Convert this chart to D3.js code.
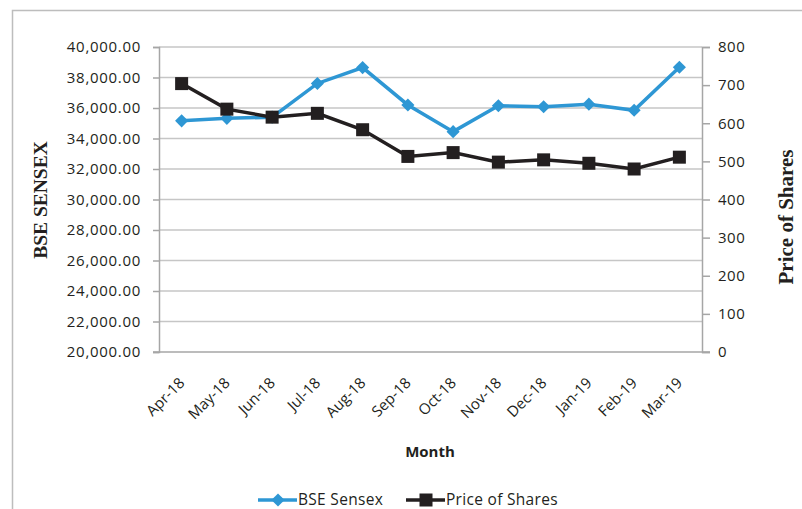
<!DOCTYPE html>
<html>
<head>
  <meta charset="utf-8" />
  <script src="https://cdn.jsdelivr.net/npm/d3@7"></script>
  <style>
    body { margin: 0; background: #fff; }
    text { font-family: "Open Sans", sans-serif; fill: #231f20; }
    .grid line { stroke: #c6c6c6; stroke-width: 1.5; }
    .axis path, .axis line { stroke: #a6a6a6; stroke-width: 1.5; }
  </style>
</head>
<body>
<svg id="chart" width="802" height="509"></svg>
<script>
  // data
  var months = ['Apr-18','May-18','Jun-18','Jul-18','Aug-18','Sep-18','Oct-18','Nov-18','Dec-18','Jan-19','Feb-19','Mar-19']
  var sensex = [35160, 35320, 35400, 37610, 38650, 36200, 34450, 36150, 36080, 36250, 35850, 38670]
  var price = [704, 637, 616, 626, 583, 513, 523, 498, 504, 495, 480, 511]
  var leftTicks = [20000, 22000, 24000, 26000, 28000, 30000, 32000, 34000, 36000, 38000, 40000]
  var rightTicks = [0, 100, 200, 300, 400, 500, 600, 700, 800]

  var svg = d3.select('#chart')
  var pL = 159, pR = 702, pT = 47, pB = 352
  var blue = '#2e97d4', black = '#231f20'

  // outer frame
  svg.append('rect')
    .attr('x', 12.5).attr('y', 10.5)
    .attr('width', 820).attr('height', 600)
    .attr('fill', 'none').attr('stroke', '#bdbdbd').attr('stroke-width', 1.5)

  var x = d3.scaleBand().domain(months).range([pL, pR])
  var yL = d3.scaleLinear().domain([20000, 40000]).range([pB, pT])
  var yR = d3.scaleLinear().domain([0, 800]).range([pB, pT])

  // gridlines
  svg.append('g').attr('class', 'grid')
    .selectAll('line').data(leftTicks.slice(1)).enter().append('line')
    .attr('x1', pL).attr('x2', pR)
    .attr('y1', d => yL(d)).attr('y2', d => yL(d))

  var fmt = d3.format(',.2f')
  var gL = svg.append('g').attr('class', 'axis')
    .attr('transform', 'translate(' + pL + ',0)')
    .call(d3.axisLeft(yL).tickValues(leftTicks).tickFormat(fmt).tickSize(6).tickPadding(12))
  gL.selectAll('text').style('font-size', '15px').style('letter-spacing', '0.7px')

  var gR = svg.append('g').attr('class', 'axis')
    .attr('transform', 'translate(' + pR + ',0)')
    .call(d3.axisRight(yR).tickValues(rightTicks).tickSize(8).tickPadding(8))
  gR.selectAll('text').style('font-size', '15px').style('letter-spacing', '0.5px')

  var gB = svg.append('g').attr('class', 'axis')
    .attr('transform', 'translate(0,' + pB + ')')
    .call(d3.axisBottom(x).tickSize(0).tickFormat(''))
  gB.select('path').attr('d', 'M' + (pL - 6) + ',0H' + (pR + 8))

  svg.append('g').selectAll('text').data(months).enter().append('text')
    .attr('transform', d => 'translate(' + (x(d) + x.bandwidth() / 2 - 4) + ',' + (pB + 24) + ') rotate(-45)')
    .attr('text-anchor', 'end')
    .attr('dy', '0.75em')
    .style('font-size', '15px')
    .text(d => d)

  // axis titles
  svg.append('text')
    .attr('transform', 'translate(47,200) rotate(-90)')
    .attr('text-anchor', 'middle')
    .style('font-family', '"Liberation Serif", serif').style('font-weight', 'bold').style('font-size', '19.5px')
    .text('BSE SENSEX')
  svg.append('text')
    .attr('transform', 'translate(793,217) rotate(-90)')
    .attr('text-anchor', 'middle')
    .style('font-family', '"Liberation Serif", serif').style('font-weight', 'bold').style('font-size', '21px')
    .text('Price of Shares')
  svg.append('text')
    .attr('x', 430).attr('y', 457)
    .attr('text-anchor', 'middle')
    .style('font-weight', 'bold').style('font-size', '15px')
    .text('Month')

  var cx = d => x(d) + x.bandwidth() / 2
  var diamond = d3.symbol().type(d3.symbolDiamond2).size(110)

  // BSE Sensex series
  svg.append('path')
    .datum(sensex)
    .attr('fill', 'none').attr('stroke', blue).attr('stroke-width', 3.5)
    .attr('d', d3.line().x((d, i) => cx(months[i])).y(d => yL(d)))
  svg.append('g').selectAll('path').data(sensex).enter().append('path')
    .attr('d', diamond)
    .attr('transform', (d, i) => 'translate(' + cx(months[i]) + ',' + yL(d) + ')')
    .attr('fill', blue)

  // Price of shares series
  svg.append('path')
    .datum(price)
    .attr('fill', 'none').attr('stroke', black).attr('stroke-width', 3.5)
    .attr('d', d3.line().x((d, i) => cx(months[i])).y(d => yR(d)))
  svg.append('g').selectAll('rect').data(price).enter().append('rect')
    .attr('x', (d, i) => cx(months[i]) - 6.5)
    .attr('y', d => yR(d) - 6.5)
    .attr('width', 13).attr('height', 13)
    .attr('fill', black)

  // legend
  var legend = [
    {name: 'BSE Sensex', color: blue, x: 258, shape: 'diamond'},
    {name: 'Price of Shares', color: black, x: 406, shape: 'square'}
  ]
  var lg = svg.append('g').selectAll('g').data(legend).enter().append('g')
    .attr('transform', d => 'translate(' + d.x + ',500)')
  lg.append('line').attr('x1', 0).attr('x2', 39)
    .attr('stroke', d => d.color).attr('stroke-width', 3.5)
  lg.filter(d => d.shape === 'diamond').append('path')
    .attr('d', diamond).attr('transform', 'translate(20,0)').attr('fill', d => d.color)
  lg.filter(d => d.shape === 'square').append('rect')
    .attr('x', 13.5).attr('y', -6.5).attr('width', 13).attr('height', 13).attr('fill', d => d.color)
  lg.append('text').attr('x', 40).attr('dy', '0.35em')
    .style('font-size', '15.5px').style('letter-spacing', '0.3px')
    .text(d => d.name)
</script>
</body>
</html>
